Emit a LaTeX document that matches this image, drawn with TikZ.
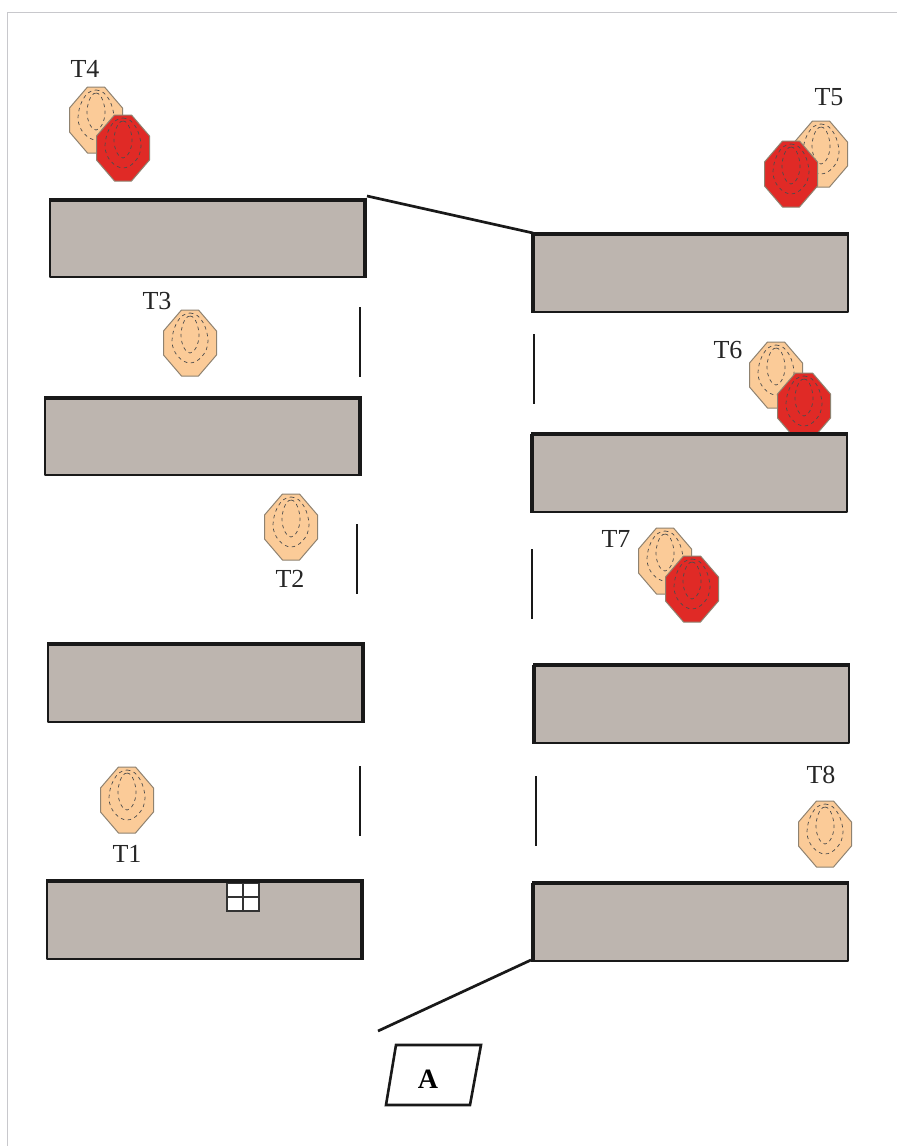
\documentclass[tikz,border=0pt]{standalone}
\usepackage{fontspec}
\setmainfont{Liberation Serif}
\definecolor{wallc}{HTML}{BDB5AF}
\definecolor{peach}{HTML}{FBCB98}
\definecolor{redt}{HTML}{E02A26}
\definecolor{edgec}{HTML}{8F8270}
\definecolor{framec}{HTML}{C8C8CC}
\tikzset{
  x=1pt,y=-1pt,
  wall/.style={draw=black!90,fill=wallc,line width=2.5pt,line join=round},
  thick edge/.style={line width=4.4pt,draw=black!90},
  gap/.style={line width=2.4pt,draw=black!90},
  label/.style={font=\fontsize{26}{26}\selectfont,text=black!85,inner sep=0pt},
  link/.style={line width=2.7pt,draw=black!90},
  egg/.style={draw=black!70,line width=.7pt,dash pattern=on 3.5pt off 3.5pt},
  pics/target/.style={code={
    \fill[fill=#1,draw=edgec,line width=1pt]
      (-8.5,-33)--(8.5,-33)--(26.5,-12)--(26.5,12)--(8.5,33)--(-8.5,33)--(-26.5,12)--(-26.5,-12)--cycle;
    \draw[egg] (0,-30) .. controls (12,-30) and (18,-12) .. (18,-2) .. controls (18,10) and (8,20) .. (0,20)
       .. controls (-8,20) and (-18,10) .. (-18,-2) .. controls (-18,-12) and (-12,-30) .. (0,-30);
    \draw[egg] (0,-27) .. controls (6,-27) and (9,-14) .. (9,-8) .. controls (9,2) and (4,10) .. (0,10)
       .. controls (-4,10) and (-9,2) .. (-9,-8) .. controls (-9,-14) and (-6,-27) .. (0,-27);
  }}
}
\begin{document}
\begin{tikzpicture}
\useasboundingbox (0,0) rectangle (897,1146);
\fill[white] (0,0) rectangle (897,1146);
\draw[framec,line width=.8pt] (7,1146)--(7,12.5)--(897,12.5);
% targets
\path (96,120) pic{target=peach};
\path (123,148) pic{target=redt};
\path (821,154) pic{target=peach};
\path (791,174) pic{target=redt};
\path (190,343) pic{target=peach};
\path (776,375) pic{target=peach};
\path (804,406) pic{target=redt};
\path (291,527) pic{target=peach};
\path (665,561) pic{target=peach};
\path (692,589) pic{target=redt};
\path (127,800) pic{target=peach};
\path (825,834) pic{target=peach};
% walls: left
\foreach \n/\xa/\ya/\xb/\yb in {
 w1/50/200/365/277, w2/45/398/360/475, w3/48/644/363/722, w4/47/881/362/959}{
  \path[wall] (\xa,\ya) rectangle (\xb,\yb);
  \draw[thick edge] (\xa-1,\ya)--(\xb+1.5,\ya);
  \draw[thick edge] (\xb,\ya)--(\xb,\yb+1);
}
% walls: right
\foreach \n/\xa/\ya/\xb/\yb in {
 w5/533/234/848/312, w6/532/434/847/512, w7/534/665/849/743, w8/533/883/848/961}{
  \path[wall] (\xa,\ya) rectangle (\xb,\yb);
  \draw[thick edge] (\xa-1,\ya)--(\xb+1,\ya);
  \draw[thick edge] (\xa,\ya)--(\xa,\yb+1);
}
% named link ends
\coordinate (la) at (367,196);
\coordinate (lb) at (533,233);
\coordinate (lc) at (531,960);
\coordinate (ld) at (378,1031);
\draw[link] (la)--(lb);
\draw[link] (lc)--(ld);
% gaps
\foreach \x/\ya/\yb in {360/307/377, 357/524/594, 360/766/836, 534/334/404, 532/549/619, 536/776/846}
  \draw[gap] (\x,\ya)--(\x,\yb);
% window
\draw[black!80,fill=white,line width=1.3pt] (227,883.5) rectangle (259,911);
\draw[black!80,line width=1.3pt] (243,883.5)--(243,911) (227,897)--(259,897);
% labels
\node[label] (t4) at (85,69) {T4};
\node[label] (t5) at (829,97) {T5};
\node[label] (t3) at (157,301) {T3};
\node[label] (t6) at (728,350) {T6};
\node[label] (t7) at (616,539) {T7};
\node[label] (t2) at (290,579) {T2};
\node[label] (t8) at (821,775) {T8};
\node[label] (t1) at (127,854) {T1};
% A
\draw[black!90,line width=2.6pt] (396,1045)--(481,1045)--(470,1105)--(386,1105)--cycle;
\node[inner sep=0pt,font=\bfseries\fontsize{28}{28}\selectfont] (a) at (428,1079) {A};
\end{tikzpicture}
\end{document}
